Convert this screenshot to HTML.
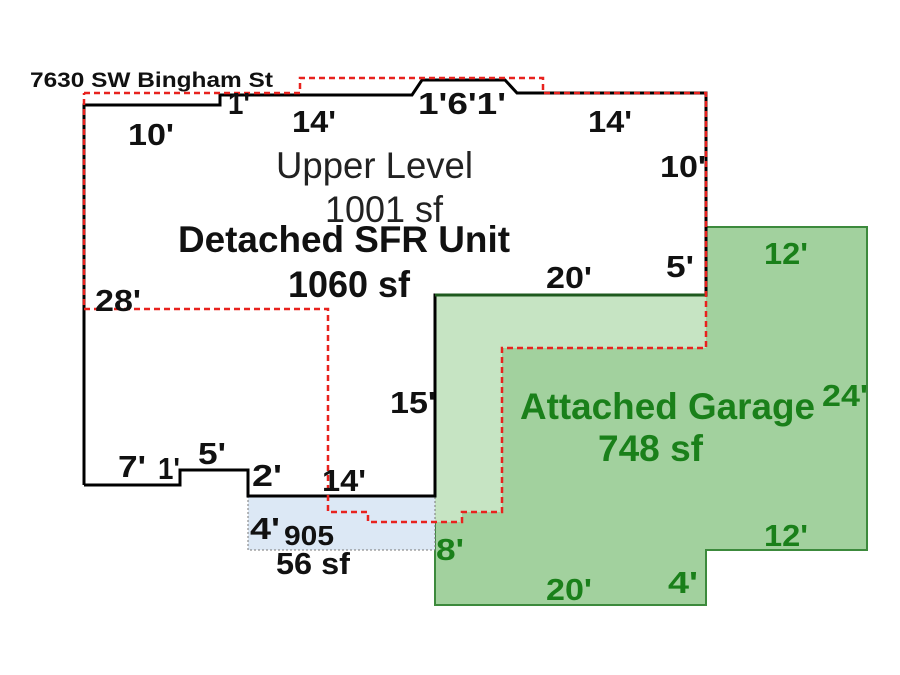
<!DOCTYPE html>
<html><head><style>body{margin:0;background:#fff}svg{display:block}text{font-family:"Liberation Sans",sans-serif}</style></head>
<body>
<svg width="900" height="675" viewBox="0 0 900 675" xmlns="http://www.w3.org/2000/svg">
<rect width="900" height="675" fill="#fff"/>
<polygon points="435,295 706,295 706,227 867,227 867,550 706,550 706,605 435,605" fill="#a2d19e" stroke="#3c8a3c" stroke-width="2"/>
<polygon points="435,295 706,295 706,348 502,348 502,512 462,512 462,522 435,522" fill="#c6e4c3"/>
<rect x="248" y="496" width="187" height="54" fill="#dce8f5" stroke="#777" stroke-width="1" stroke-dasharray="2,2"/>
<polyline points="84,485 84,105 220,105 220,95 412,95 422,80 505,80 517,93 706,93 706,295 435,295 435,496 248,496 248,470 180,470 180,485 84,485" fill="none" stroke="#000" stroke-width="3"/>
<line x1="435" y1="295" x2="706" y2="295" stroke="#1e5a1e" stroke-width="3"/>
<polyline points="84,93 300,93 300,78 543,78 543,93 706,93 706,348 502,348 502,512 462,512 462,522 368,522 368,512 328,512 328,309 84,309 84,93" fill="none" stroke="#e8221e" stroke-width="2.5" stroke-dasharray="6,4"/>
<g font-weight="bold" fill="#111">
<text x="30" y="87" font-size="21" textLength="243" lengthAdjust="spacingAndGlyphs">7630 SW Bingham St</text>
<text x="228" y="114" font-size="31" textLength="22" lengthAdjust="spacingAndGlyphs">1'</text>
<text x="128" y="145" font-size="31" textLength="46" lengthAdjust="spacingAndGlyphs">10'</text>
<text x="292" y="132" font-size="31" textLength="44" lengthAdjust="spacingAndGlyphs">14'</text>
<text x="418" y="114" font-size="31" textLength="88" lengthAdjust="spacingAndGlyphs">1'6'1'</text>
<text x="588" y="132" font-size="31" textLength="44" lengthAdjust="spacingAndGlyphs">14'</text>
<text x="660" y="177" font-size="31" textLength="46" lengthAdjust="spacingAndGlyphs">10'</text>
<text x="178" y="252" font-size="37" textLength="332" lengthAdjust="spacingAndGlyphs">Detached SFR Unit</text>
<text x="288" y="297" font-size="37" textLength="122" lengthAdjust="spacingAndGlyphs">1060 sf</text>
<text x="546" y="288" font-size="31" textLength="46" lengthAdjust="spacingAndGlyphs">20'</text>
<text x="666" y="277" font-size="31" textLength="28" lengthAdjust="spacingAndGlyphs">5'</text>
<text x="95" y="311" font-size="31" textLength="46" lengthAdjust="spacingAndGlyphs">28'</text>
<text x="390" y="413" font-size="31" textLength="46" lengthAdjust="spacingAndGlyphs">15'</text>
<text x="118" y="477" font-size="31" textLength="28" lengthAdjust="spacingAndGlyphs">7'</text>
<text x="158" y="479" font-size="31" textLength="22" lengthAdjust="spacingAndGlyphs">1'</text>
<text x="198" y="464" font-size="31" textLength="28" lengthAdjust="spacingAndGlyphs">5'</text>
<text x="252" y="486" font-size="31" textLength="30" lengthAdjust="spacingAndGlyphs">2'</text>
<text x="322" y="491" font-size="31" textLength="44" lengthAdjust="spacingAndGlyphs">14'</text>
<text x="250" y="539" font-size="31" textLength="30" lengthAdjust="spacingAndGlyphs">4'</text>
<text x="284" y="545" font-size="28" textLength="50" lengthAdjust="spacingAndGlyphs">905</text>
<text x="276" y="574" font-size="31" textLength="74" lengthAdjust="spacingAndGlyphs">56 sf</text>
</g>
<g fill="#222" font-size="37">
<text x="276" y="178" textLength="197" lengthAdjust="spacingAndGlyphs">Upper Level</text>
<text x="325" y="222" textLength="118" lengthAdjust="spacingAndGlyphs">1001 sf</text>
</g>
<g font-weight="bold" fill="#1a801a">
<text x="520" y="419" font-size="37" textLength="295" lengthAdjust="spacingAndGlyphs">Attached Garage</text>
<text x="598" y="461" font-size="37" textLength="105" lengthAdjust="spacingAndGlyphs">748 sf</text>
<text x="822" y="406" font-size="31" textLength="46" lengthAdjust="spacingAndGlyphs">24'</text>
<text x="764" y="264" font-size="31" textLength="44" lengthAdjust="spacingAndGlyphs">12'</text>
<text x="764" y="546" font-size="31" textLength="44" lengthAdjust="spacingAndGlyphs">12'</text>
<text x="436" y="560" font-size="31" textLength="28" lengthAdjust="spacingAndGlyphs">8'</text>
<text x="546" y="600" font-size="31" textLength="46" lengthAdjust="spacingAndGlyphs">20'</text>
<text x="668" y="593" font-size="31" textLength="30" lengthAdjust="spacingAndGlyphs">4'</text>
</g>
</svg>
</body></html>
